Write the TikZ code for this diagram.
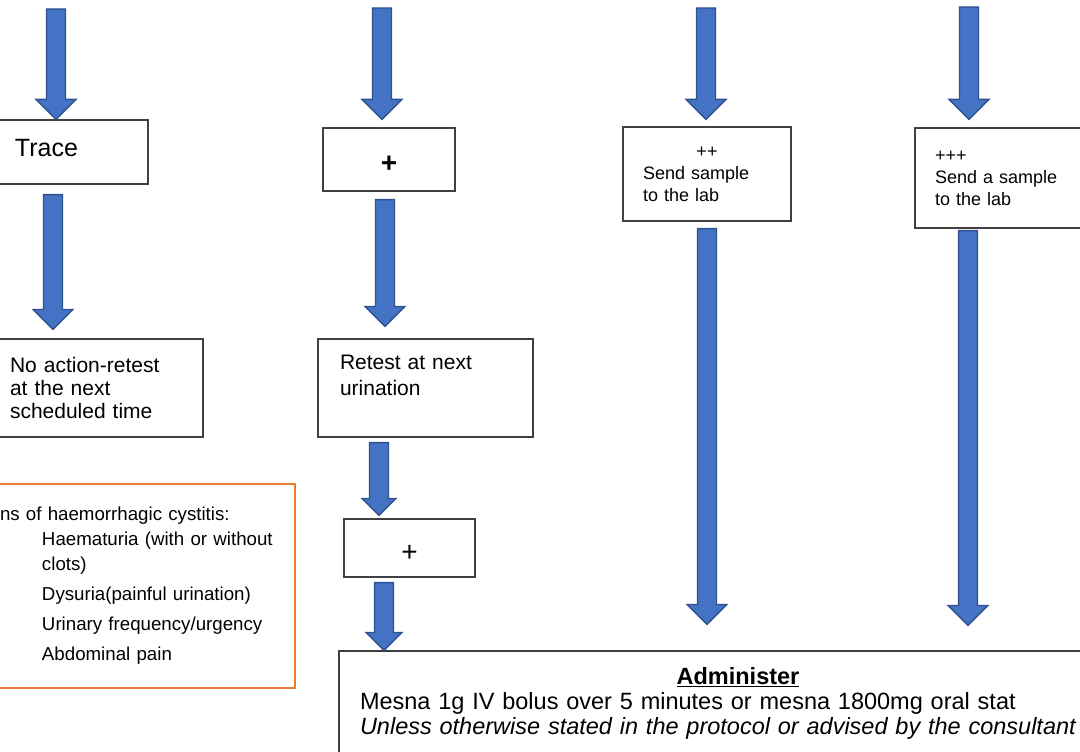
\documentclass[tikz,border=0pt]{standalone}
\usepackage{fontspec}
\setmainfont{Liberation Sans}
\usetikzlibrary{positioning,calc}

\definecolor{arrowblue}{HTML}{4472C4}
\definecolor{arrowedge}{HTML}{2F528F}
\definecolor{boxorange}{HTML}{ED7D31}

\tikzset{
  box/.style={draw=black!75, line width=1.2pt, inner sep=0pt, align=left, font=\fontsize{21}{23}\selectfont},
  plusbox/.style={box, text height=26pt, text depth=0pt, font=\fontsize{28}{30}\selectfont},
  blockarrow/.style={fill=arrowblue, draw=arrowedge, line width=1.3pt, line join=miter},
}

% block arrow: [head half-width] x, from, to
\newcommand{\blockdown}[4][20]{%
  \draw[blockarrow] let \p1=(#3), \p2=(#4) in
    (#2pt-9.5pt,\y1) -- (#2pt+9.5pt,\y1) -- (#2pt+9.5pt,\y2+#1pt) -- (#2pt+#1pt,\y2+#1pt)
    -- (#2pt,\y2) -- (#2pt-#1pt,\y2+#1pt) -- (#2pt-9.5pt,\y2+#1pt) -- cycle;}

\begin{document}
\begin{tikzpicture}[x=1pt, y=-1pt]
  \useasboundingbox (0,0) rectangle (1080,752);
  \clip (0,0) rectangle (1080,752);

  % boxes
  \node[box, minimum width=188pt, minimum height=64pt, text width=78pt, text height=18pt, text depth=10pt, font=\fontsize{25}{28}\selectfont] (trace) at (54,152) {Trace};
  \node[box, minimum width=223pt, minimum height=98pt, text width=163pt] (noact) at (91.5,388) {No action-retest\\at the next\\scheduled time};
  \node[plusbox, minimum width=132pt, minimum height=63pt, font=\bfseries\fontsize{28}{30}\selectfont] (plusa) at (389,159.5) {+};
  \node[box, minimum width=215pt, minimum height=98pt, text width=171pt, font=\fontsize{21}{26}\selectfont] (retest) at (425.5,388) {Retest at next\\urination\\\mbox{}};
  \node[plusbox, minimum width=131pt, minimum height=58pt] (plusb) at (409.5,548) {+};
  \node[box, minimum width=168pt, minimum height=94pt, text width=128pt, font=\fontsize{18}{22}\selectfont] (twoplus) at (707,174) {\makebox[\linewidth]{++}\\Send sample\\to the lab};
  \node[box, minimum width=185pt, minimum height=100pt, text width=145pt, font=\fontsize{18}{22}\selectfont] (threeplus) at (1007.5,178) {+++\\Send a sample\\to the lab};
  \node[box, minimum width=798pt, minimum height=104pt, text width=756pt, font=\fontsize{23.5}{25}\selectfont] (admin) at (738,703) {\makebox[\linewidth]{\bfseries\underline{Administer}}\\Mesna 1g IV bolus over 5 minutes or mesna 1800mg oral stat\\{\itshape Unless otherwise stated in the protocol or advised by the consultant}};

  \node[draw=boxorange, line width=1.5pt, minimum width=315pt, minimum height=204pt, text width=275pt, inner sep=0pt, align=left, font=\fontsize{18.7}{25}\selectfont] (signs) at (137.5,586)
    {ns of haemorrhagic cystitis:\\ \hspace*{42pt}Haematuria (with or without\\ \hspace*{42pt}clots)\\[5pt] \hspace*{42pt}Dysuria(painful urination)\\[5pt] \hspace*{42pt}Urinary frequency/urgency\\[5pt] \hspace*{42pt}Abdominal pain};

  % free ends of the top arrows
  \coordinate (top1) at (56,9);
  \coordinate (top2) at (382,8);
  \coordinate (top3) at (706,8);
  \coordinate (top4) at (969,7);

  % arrows
  \blockdown{56}{top1}{trace.north}
  \blockdown{53}{[yshift=-10pt]trace.south}{[yshift=9pt]noact.north}
  \blockdown{382}{top2}{[yshift=8pt]plusa.north}
  \blockdown{385}{[yshift=-8pt]plusa.south}{[yshift=12pt]retest.north}
  \blockdown[17]{379}{[yshift=-5pt]retest.south}{[yshift=3pt]plusb.north}
  \blockdown[18]{384}{[yshift=-5pt]plusb.south}{admin.north}
  \blockdown{706}{top3}{[yshift=7pt]twoplus.north}
  \blockdown{707}{[yshift=-7pt]twoplus.south}{[yshift=26pt]admin.north}
  \blockdown{969}{top4}{[yshift=8pt]threeplus.north}
  \blockdown{968}{[yshift=-2pt]threeplus.south}{[yshift=25pt]admin.north}
\end{tikzpicture}
\end{document}
